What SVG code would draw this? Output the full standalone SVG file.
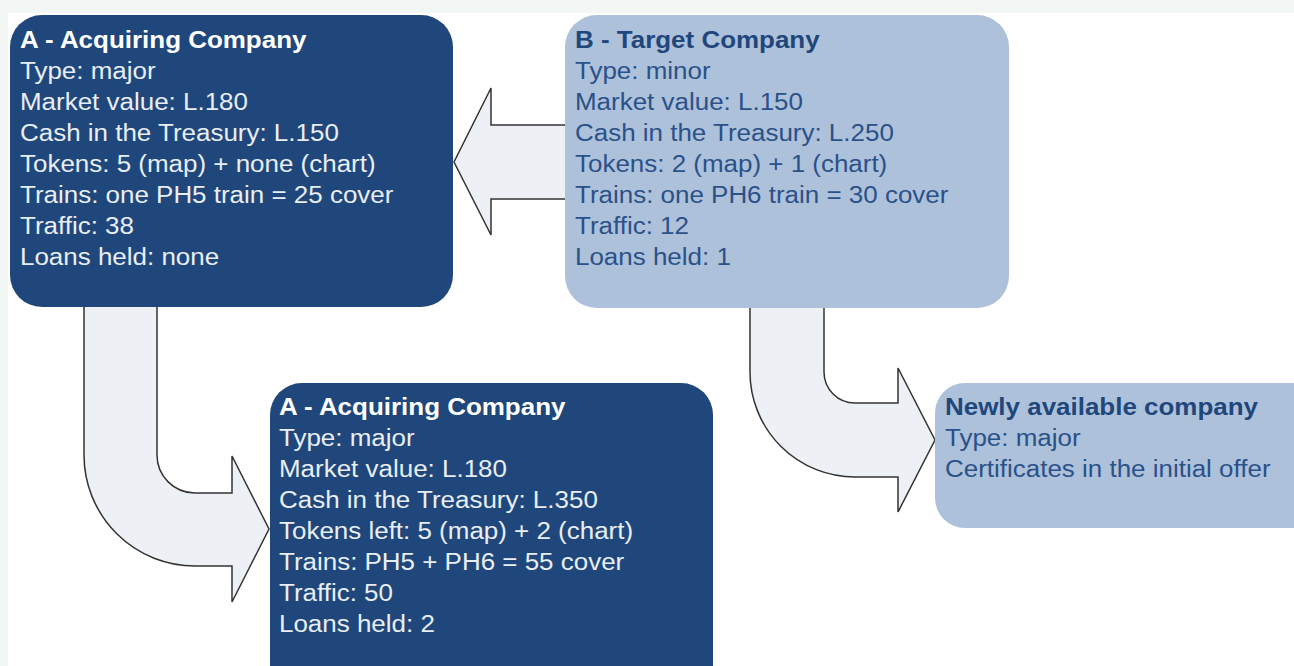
<svg xmlns="http://www.w3.org/2000/svg" width="1294" height="666" viewBox="0 0 1294 666">
  <style>
    .dark { fill: #1f477b; }
    .light { fill: #adc1db; }
    .arrow { fill: #edf1f6; stroke: #333333; stroke-width: 1.5; stroke-linejoin: miter; }
    text { font-family: "Liberation Sans", Arial, sans-serif; font-size: 23.5px; }
    .dark-title { fill: #ffffff; font-weight: bold; }
    .dark-line { fill: #e9eef5; }
    .light-title { fill: #1f477b; font-weight: bold; }
    .light-line { fill: #2b5189; }
  </style>

  <!-- page backdrop -->
  <rect x="0" y="0" width="1294" height="666" fill="#f2f7f6"/>
  <rect x="8" y="13" width="1286" height="653" fill="#ffffff"/>

  <!-- block arrows -->
  <g id="connectors">
    <path class="arrow" d="M565,125 H491 V88 L454,162 L491,235 V199 H565"/>
    <path class="arrow" d="M84,307 V455 A111,111 0 0 0 195,566 H232 V602 L269,529 L232,456 V493 H195 A38,38 0 0 1 157,455 V307"/>
    <path class="arrow" d="M750,308 V372 A105,105 0 0 0 855,477 H898 V512 L935,440 L898,368 V403 H855 A31,31 0 0 1 824,372 V308"/>
  </g>

  <g id="acquiring-before">
    <rect class="dark" x="10" y="15" width="443" height="292" rx="32" ry="32"/>
    <g transform="translate(20,0) scale(1.105,1)">
      <text class="dark-title" x="0" y="48">A - Acquiring Company</text>
      <text class="dark-line" x="0" y="79">Type: major</text>
      <text class="dark-line" x="0" y="110">Market value: L.180</text>
      <text class="dark-line" x="0" y="141">Cash in the Treasury: L.150</text>
      <text class="dark-line" x="0" y="172">Tokens: 5 (map) + none (chart)</text>
      <text class="dark-line" x="0" y="203">Trains: one PH5 train = 25 cover</text>
      <text class="dark-line" x="0" y="234">Traffic: 38</text>
      <text class="dark-line" x="0" y="265">Loans held: none</text>
    </g>
  </g>

  <g id="target">
    <rect class="light" x="565" y="15" width="444" height="293" rx="32" ry="32"/>
    <g transform="translate(575,0) scale(1.105,1)">
      <text class="light-title" x="0" y="48">B - Target Company</text>
      <text class="light-line" x="0" y="79">Type: minor</text>
      <text class="light-line" x="0" y="110">Market value: L.150</text>
      <text class="light-line" x="0" y="141">Cash in the Treasury: L.250</text>
      <text class="light-line" x="0" y="172">Tokens: 2 (map) + 1 (chart)</text>
      <text class="light-line" x="0" y="203">Trains: one PH6 train = 30 cover</text>
      <text class="light-line" x="0" y="234">Traffic: 12</text>
      <text class="light-line" x="0" y="265">Loans held: 1</text>
    </g>
  </g>

  <g id="acquiring-after">
    <rect class="dark" x="270" y="383" width="443" height="320" rx="32" ry="32"/>
    <g transform="translate(279,0) scale(1.105,1)">
      <text class="dark-title" x="0" y="415">A - Acquiring Company</text>
      <text class="dark-line" x="0" y="446">Type: major</text>
      <text class="dark-line" x="0" y="477">Market value: L.180</text>
      <text class="dark-line" x="0" y="508">Cash in the Treasury: L.350</text>
      <text class="dark-line" x="0" y="539">Tokens left: 5 (map) + 2 (chart)</text>
      <text class="dark-line" x="0" y="570">Trains: PH5 + PH6 = 55 cover</text>
      <text class="dark-line" x="0" y="601">Traffic: 50</text>
      <text class="dark-line" x="0" y="632">Loans held: 2</text>
    </g>
  </g>

  <g id="newly-available">
    <rect class="light" x="935" y="383" width="400" height="145" rx="30" ry="30"/>
    <g transform="translate(945,0) scale(1.105,1)">
      <text class="light-title" x="0" y="415">Newly available company</text>
      <text class="light-line" x="0" y="446">Type: major</text>
      <text class="light-line" x="0" y="477">Certificates in the initial offer</text>
    </g>
  </g>
</svg>
